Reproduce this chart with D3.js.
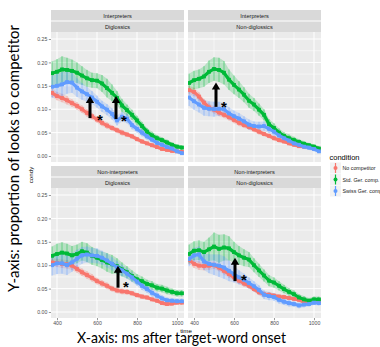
<!DOCTYPE html>
<html>
<head>
<meta charset="utf-8">
<script src="https://cdn.jsdelivr.net/npm/d3@7"></script>
<style>
  html, body { margin: 0; padding: 0; background: #fff; overflow: hidden; }
  svg { display: block; font-family: "Liberation Sans", Arial, sans-serif; }
</style>
</head>
<body>
<svg id="chart" width="380" height="347"></svg>
<script>
// Data (proportion of looks to competitor)
const TIME = [375, 400, 425, 450, 475, 500, 525, 550, 575, 600, 625, 650, 675, 700,
  725, 750, 775, 800, 825, 850, 875, 900, 925, 950, 975, 1000, 1025];

const CONDITIONS = ['No competitor', 'Std. Ger. comp.', 'Swiss Ger. comp.'];
const COLORS = ['#F8766D', '#00BA38', '#619CFF'];

const GROUPS = ['Interpreters', 'Interpreters', 'Non-interpreters', 'Non-interpreters'];
const LANGS = ['Diglossics', 'Non-diglossics', 'Diglossics', 'Non-diglossics'];

// Interpreters / Diglossics
const INT_DIG_NO = [0.135, 0.128, 0.124, 0.119, 0.113, 0.107, 0.100, 0.092, 0.085, 0.078, 0.071, 0.065, 0.060, 0.055,
  0.050, 0.046, 0.042, 0.036, 0.031, 0.027, 0.023, 0.019, 0.015, 0.013, 0.011, 0.010, 0.009];
const INT_DIG_STD = [0.177, 0.180, 0.185, 0.184, 0.182, 0.178, 0.172, 0.166, 0.162, 0.161, 0.155, 0.145, 0.135, 0.124,
  0.108, 0.098, 0.088, 0.076, 0.064, 0.052, 0.044, 0.038, 0.034, 0.029, 0.024, 0.020, 0.018];
const INT_DIG_SWISS = [0.148, 0.150, 0.153, 0.158, 0.157, 0.146, 0.138, 0.132, 0.125, 0.116, 0.106, 0.099, 0.090, 0.076,
  0.084, 0.080, 0.066, 0.058, 0.050, 0.042, 0.035, 0.028, 0.024, 0.019, 0.016, 0.010, 0.006];
const INT_DIG_NO_SE = [0.009, 0.009, 0.009, 0.009, 0.008, 0.008, 0.008, 0.008, 0.007, 0.007, 0.007, 0.007, 0.006, 0.006,
  0.006, 0.005, 0.005, 0.005, 0.005, 0.004, 0.004, 0.004, 0.004, 0.003, 0.003, 0.003, 0.003];
const INT_DIG_STD_SE = [0.025, 0.027, 0.028, 0.026, 0.024, 0.022, 0.020, 0.018, 0.016, 0.016, 0.018, 0.020, 0.018, 0.015,
  0.014, 0.012, 0.011, 0.010, 0.009, 0.008, 0.008, 0.007, 0.006, 0.006, 0.005, 0.005, 0.005];
const INT_DIG_SWISS_SE = [0.024, 0.026, 0.026, 0.025, 0.022, 0.020, 0.018, 0.016, 0.014, 0.013, 0.012, 0.012, 0.012, 0.011,
  0.010, 0.010, 0.009, 0.008, 0.008, 0.007, 0.006, 0.006, 0.005, 0.005, 0.005, 0.004, 0.004];

// Interpreters / Non-diglossics
const INT_NON_NO = [0.141, 0.137, 0.127, 0.114, 0.104, 0.099, 0.093, 0.088, 0.083, 0.077, 0.071, 0.066, 0.062, 0.057,
  0.052, 0.047, 0.043, 0.038, 0.034, 0.031, 0.027, 0.024, 0.021, 0.020, 0.019, 0.016, 0.014];
const INT_NON_STD = [0.156, 0.162, 0.165, 0.170, 0.180, 0.186, 0.184, 0.178, 0.163, 0.152, 0.142, 0.131, 0.118, 0.110,
  0.099, 0.088, 0.068, 0.060, 0.050, 0.043, 0.038, 0.034, 0.030, 0.026, 0.023, 0.020, 0.016];
const INT_NON_SWISS = [0.125, 0.117, 0.110, 0.103, 0.101, 0.100, 0.101, 0.100, 0.091, 0.085, 0.080, 0.074, 0.067, 0.064,
  0.063, 0.064, 0.058, 0.052, 0.044, 0.038, 0.033, 0.027, 0.024, 0.020, 0.018, 0.015, 0.010];
const INT_NON_NO_SE = [0.009, 0.009, 0.009, 0.008, 0.008, 0.008, 0.008, 0.007, 0.007, 0.007, 0.007, 0.006, 0.006, 0.006,
  0.006, 0.005, 0.005, 0.005, 0.005, 0.004, 0.004, 0.004, 0.004, 0.004, 0.003, 0.003, 0.003];
const INT_NON_STD_SE = [0.020, 0.020, 0.020, 0.022, 0.024, 0.025, 0.026, 0.025, 0.022, 0.020, 0.018, 0.016, 0.015, 0.014,
  0.013, 0.012, 0.011, 0.010, 0.009, 0.008, 0.008, 0.007, 0.006, 0.006, 0.005, 0.005, 0.005];
const INT_NON_SWISS_SE = [0.018, 0.018, 0.017, 0.017, 0.016, 0.016, 0.015, 0.014, 0.013, 0.012, 0.012, 0.011, 0.011, 0.010,
  0.010, 0.010, 0.009, 0.009, 0.008, 0.007, 0.007, 0.006, 0.006, 0.005, 0.005, 0.005, 0.004];

// Non-interpreters / Diglossics
const NON_DIG_NO = [0.106, 0.105, 0.103, 0.102, 0.099, 0.092, 0.085, 0.079, 0.073, 0.066, 0.061, 0.056, 0.050, 0.046,
  0.044, 0.043, 0.040, 0.036, 0.033, 0.031, 0.027, 0.024, 0.019, 0.017, 0.018, 0.020, 0.020];
const NON_DIG_STD = [0.120, 0.124, 0.127, 0.125, 0.121, 0.124, 0.130, 0.127, 0.120, 0.116, 0.111, 0.106, 0.102, 0.098,
  0.091, 0.085, 0.077, 0.070, 0.066, 0.060, 0.057, 0.052, 0.050, 0.046, 0.043, 0.040, 0.040];
const NON_DIG_SWISS = [0.100, 0.104, 0.104, 0.100, 0.106, 0.114, 0.121, 0.123, 0.121, 0.120, 0.116, 0.110, 0.103, 0.096,
  0.089, 0.082, 0.074, 0.065, 0.056, 0.049, 0.041, 0.035, 0.029, 0.025, 0.024, 0.023, 0.023];
const NON_DIG_NO_SE = [0.009, 0.009, 0.009, 0.009, 0.009, 0.008, 0.008, 0.008, 0.008, 0.007, 0.007, 0.007, 0.006, 0.006,
  0.006, 0.006, 0.005, 0.005, 0.005, 0.005, 0.004, 0.004, 0.004, 0.004, 0.004, 0.004, 0.004];
const NON_DIG_STD_SE = [0.020, 0.022, 0.022, 0.021, 0.020, 0.020, 0.020, 0.020, 0.019, 0.018, 0.018, 0.020, 0.020, 0.017,
  0.015, 0.013, 0.012, 0.011, 0.010, 0.009, 0.009, 0.008, 0.008, 0.008, 0.007, 0.007, 0.007];
const NON_DIG_SWISS_SE = [0.022, 0.023, 0.022, 0.021, 0.020, 0.019, 0.018, 0.017, 0.016, 0.016, 0.015, 0.015, 0.014, 0.013,
  0.012, 0.011, 0.010, 0.009, 0.009, 0.008, 0.008, 0.007, 0.007, 0.006, 0.006, 0.006, 0.006];

// Non-interpreters / Non-diglossics
const NON_NON_NO = [0.111, 0.103, 0.099, 0.098, 0.099, 0.100, 0.095, 0.088, 0.081, 0.074, 0.067, 0.061, 0.056, 0.049,
  0.042, 0.038, 0.037, 0.035, 0.033, 0.032, 0.030, 0.028, 0.026, 0.021, 0.021, 0.023, 0.023];
const NON_NON_STD = [0.124, 0.131, 0.132, 0.128, 0.134, 0.140, 0.135, 0.138, 0.136, 0.128, 0.121, 0.116, 0.112, 0.100,
  0.089, 0.078, 0.067, 0.063, 0.056, 0.049, 0.043, 0.038, 0.031, 0.027, 0.024, 0.027, 0.027];
const NON_NON_SWISS = [0.113, 0.121, 0.123, 0.108, 0.103, 0.101, 0.099, 0.095, 0.088, 0.081, 0.074, 0.069, 0.062, 0.055,
  0.047, 0.037, 0.034, 0.032, 0.026, 0.022, 0.019, 0.017, 0.014, 0.016, 0.017, 0.020, 0.019];
const NON_NON_NO_SE = [0.009, 0.009, 0.009, 0.009, 0.009, 0.008, 0.008, 0.008, 0.008, 0.007, 0.007, 0.007, 0.006, 0.006,
  0.006, 0.006, 0.005, 0.005, 0.005, 0.005, 0.004, 0.004, 0.004, 0.004, 0.004, 0.004, 0.004];
const NON_NON_STD_SE = [0.020, 0.020, 0.021, 0.022, 0.025, 0.030, 0.030, 0.028, 0.026, 0.022, 0.020, 0.018, 0.016, 0.015,
  0.014, 0.013, 0.012, 0.011, 0.010, 0.009, 0.008, 0.008, 0.007, 0.007, 0.006, 0.006, 0.006];
const NON_NON_SWISS_SE = [0.015, 0.016, 0.017, 0.018, 0.020, 0.022, 0.024, 0.024, 0.022, 0.018, 0.015, 0.013, 0.012, 0.011,
  0.010, 0.009, 0.009, 0.008, 0.008, 0.007, 0.007, 0.006, 0.006, 0.006, 0.005, 0.005, 0.005];

// Annotations: [panel, time, from, to] and asterisks [panel, time, value]
const ARROWS = [[0, 565, 0.081, 0.128], [0, 695, 0.079, 0.128], [1, 510, 0.105, 0.157],
  [2, 705, 0.052, 0.099], [3, 605, 0.066, 0.116]];
const STARS = [[0, 615, 0.085], [0, 735, 0.083], [1, 550, 0.113], [2, 745, 0.060], [3, 650, 0.075]];

const X_TICKS = [400, 600, 800, 1000];
const X_MINOR = [500, 700, 900];
const Y_TICKS = [0, 0.05, 0.10, 0.15, 0.20, 0.25];
const Y_MINOR = [0.025, 0.075, 0.125, 0.175, 0.225];

const PANEL_SERIES = [
  [[INT_DIG_NO, INT_DIG_NO_SE], [INT_DIG_STD, INT_DIG_STD_SE], [INT_DIG_SWISS, INT_DIG_SWISS_SE]],
  [[INT_NON_NO, INT_NON_NO_SE], [INT_NON_STD, INT_NON_STD_SE], [INT_NON_SWISS, INT_NON_SWISS_SE]],
  [[NON_DIG_NO, NON_DIG_NO_SE], [NON_DIG_STD, NON_DIG_STD_SE], [NON_DIG_SWISS, NON_DIG_SWISS_SE]],
  [[NON_NON_NO, NON_NON_NO_SE], [NON_NON_STD, NON_NON_STD_SE], [NON_NON_SWISS, NON_NON_SWISS_SE]],
];

// Layout
const COL_X = [51, 188];
const STRIP_Y = [10, 166];
const STRIP_ROW = 11;
const PANEL_W = 133;
const PANEL_H = 130;

const svg = d3.select('#chart');

const x = d3.scaleLinear([370, 1035], [0, PANEL_W]);
const y = d3.scaleLinear([-0.0128, 0.265], [PANEL_H, 0]);

const lineGen = d3.line().x((d, i) => x(TIME[i])).y((d) => y(d));
const areaGen = d3.area()
  .x((d) => x(d.t))
  .y0((d) => y(d.v - d.se))
  .y1((d) => y(d.v + d.se));

svg.append('defs').append('clipPath').attr('id', 'clip')
  .append('rect').attr('width', PANEL_W).attr('height', PANEL_H);

PANEL_SERIES.forEach((series, p) => {
  const col = p % 2;
  const row = Math.floor(p / 2);
  const left = COL_X[col];
  const top = STRIP_Y[row] + STRIP_ROW * 2;

  // Strips
  const strip = svg.append('g').attr('transform', `translate(${left}, ${STRIP_Y[row]})`);
  [GROUPS[p], LANGS[p]].forEach((label, k) => {
    strip.append('rect')
      .attr('y', k * STRIP_ROW + (k ? 0.5 : 0))
      .attr('width', PANEL_W)
      .attr('height', STRIP_ROW - 0.5)
      .attr('fill', '#D9D9D9');
    strip.append('text')
      .attr('x', PANEL_W / 2)
      .attr('y', k * STRIP_ROW + 7.6)
      .attr('text-anchor', 'middle')
      .attr('font-size', 5.6)
      .attr('fill', '#1A1A1A')
      .text(label);
  });

  const g = svg.append('g').attr('transform', `translate(${left}, ${top})`);
  g.append('rect').attr('width', PANEL_W).attr('height', PANEL_H).attr('fill', '#EBEBEB');

  // Grid
  g.selectAll('.xminor').data(X_MINOR).join('line')
    .attr('x1', (d) => x(d)).attr('x2', (d) => x(d))
    .attr('y1', 0).attr('y2', PANEL_H)
    .attr('stroke', '#fff').attr('stroke-width', 0.5);
  g.selectAll('.yminor').data(Y_MINOR).join('line')
    .attr('y1', (d) => y(d)).attr('y2', (d) => y(d))
    .attr('x1', 0).attr('x2', PANEL_W)
    .attr('stroke', '#fff').attr('stroke-width', 0.5);
  X_TICKS.forEach((d) => {
    g.append('line').attr('x1', x(d)).attr('x2', x(d)).attr('y1', 0).attr('y2', PANEL_H)
      .attr('stroke', '#fff').attr('stroke-width', 1);
  });
  Y_TICKS.forEach((d) => {
    g.append('line').attr('y1', y(d)).attr('y2', y(d)).attr('x1', 0).attr('x2', PANEL_W)
      .attr('stroke', '#fff').attr('stroke-width', 1);
  });

  const plot = g.append('g').attr('clip-path', 'url(#clip)');

  // Error bars
  series.forEach(([vals, se], c) => {
    const pts = vals.map((v, i) => ({ t: TIME[i], v, se: se[i] }));
    plot.append('path')
      .attr('d', areaGen(pts))
      .attr('fill', COLORS[c])
      .attr('opacity', 0.22);
    plot.selectAll(null).data(pts).join('line')
      .attr('x1', (d) => x(d.t)).attr('x2', (d) => x(d.t))
      .attr('y1', (d) => y(d.v - d.se)).attr('y2', (d) => y(d.v + d.se))
      .attr('stroke', COLORS[c])
      .attr('stroke-width', 0.9)
      .attr('opacity', 0.5);
  });

  // Means
  series.forEach(([vals], c) => {
    plot.append('path')
      .attr('d', lineGen(vals))
      .attr('fill', 'none')
      .attr('stroke', COLORS[c])
      .attr('stroke-width', 3.2)
      .attr('stroke-linejoin', 'round');
    plot.selectAll(null).data(vals).join('rect')
      .attr('x', (d, i) => x(TIME[i]) - 1.9)
      .attr('y', (d) => y(d) - 1.9)
      .attr('width', 3.8)
      .attr('height', 3.8)
      .attr('fill', COLORS[c]);
  });

  // Arrows
  ARROWS.filter((a) => a[0] === p).forEach(([, t, from, to]) => {
    const ax = x(t);
    const yb = y(from);
    const yt = y(to);
    g.append('line')
      .attr('x1', ax).attr('x2', ax)
      .attr('y1', yb).attr('y2', yt + 6)
      .attr('stroke', '#000').attr('stroke-width', 3);
    g.append('path')
      .attr('d', `M${ax - 4.2},${yt + 7} L${ax},${yt} L${ax + 4.2},${yt + 7} Z`)
      .attr('fill', '#000');
  });
  STARS.filter((s) => s[0] === p).forEach(([, t, v]) => {
    g.append('text')
      .attr('x', x(t)).attr('y', y(v) + 8.5)
      .attr('text-anchor', 'middle')
      .attr('font-size', 15)
      .attr('font-weight', 'bold')
      .attr('fill', '#000')
      .text('*');
  });

  // Axes
  if (col === 0) {
    const ya = g.append('g')
      .call(d3.axisLeft(y).tickValues(Y_TICKS).tickFormat(d3.format('.2f')).tickSize(2.2).tickPadding(1.5));
    ya.select('.domain').remove();
    ya.selectAll('line').attr('stroke', '#333').attr('stroke-width', 0.5);
    ya.selectAll('text').attr('fill', '#4D4D4D').attr('font-size', 5.2)
      .attr('font-family', '"Liberation Sans", Arial, sans-serif');
  }
  if (row === 1) {
    const xa = g.append('g').attr('transform', `translate(0, ${PANEL_H})`)
      .call(d3.axisBottom(x).tickValues(X_TICKS).tickFormat(d3.format('d')).tickSize(2.2).tickPadding(1.2));
    xa.select('.domain').remove();
    xa.selectAll('line').attr('stroke', '#333').attr('stroke-width', 0.5);
    xa.selectAll('text').attr('fill', '#4D4D4D').attr('font-size', 5.2)
      .attr('font-family', '"Liberation Sans", Arial, sans-serif');
  }
});

// Axis titles from the plot
svg.append('text')
  .attr('transform', 'translate(32.5, 175) rotate(-90)')
  .attr('text-anchor', 'middle')
  .attr('font-size', 6.2)
  .attr('fill', '#000')
  .text('condy');
svg.append('text')
  .attr('x', 186).attr('y', 332.5)
  .attr('text-anchor', 'middle')
  .attr('font-size', 6.2)
  .attr('fill', '#000')
  .text('time');

// Legend
const legend = svg.append('g').attr('transform', 'translate(328, 0)');
legend.append('text')
  .attr('x', 1.5).attr('y', 160)
  .attr('font-size', 7.5)
  .attr('fill', '#000')
  .text('condition');
CONDITIONS.forEach((name, i) => {
  const cy = 168 + i * 11.5;
  legend.append('rect')
    .attr('x', 2).attr('y', cy - 5.5)
    .attr('width', 11).attr('height', 11)
    .attr('fill', '#F2F2F2');
  legend.append('line')
    .attr('x1', 7.5).attr('x2', 7.5).attr('y1', cy - 5).attr('y2', cy + 5)
    .attr('stroke', COLORS[i]).attr('stroke-width', 1.2);
  legend.append('circle')
    .attr('cx', 7.5).attr('cy', cy).attr('r', 2)
    .attr('fill', COLORS[i]);
  legend.append('text')
    .attr('x', 14.5).attr('y', cy + 2)
    .attr('font-size', 5.3)
    .attr('fill', '#1A1A1A')
    .text(name);
});

// Slide annotations
svg.append('text')
  .attr('transform', 'translate(19, 158.5) rotate(-90)')
  .attr('text-anchor', 'middle')
  .attr('font-family', 'Lato, "Open Sans", sans-serif')
  .attr('font-size', 15)
  .attr('fill', '#000')
  .attr('textLength', 267)
  .attr('lengthAdjust', 'spacingAndGlyphs')
  .text('Y-axis: proportion of looks to competitor');
svg.append('text')
  .attr('x', 181.5).attr('y', 343)
  .attr('text-anchor', 'middle')
  .attr('font-family', 'Lato, "Open Sans", sans-serif')
  .attr('font-size', 15)
  .attr('fill', '#000')
  .attr('textLength', 209)
  .attr('lengthAdjust', 'spacingAndGlyphs')
  .text('X-axis: ms after target-word onset');
</script>
</body>
</html>
